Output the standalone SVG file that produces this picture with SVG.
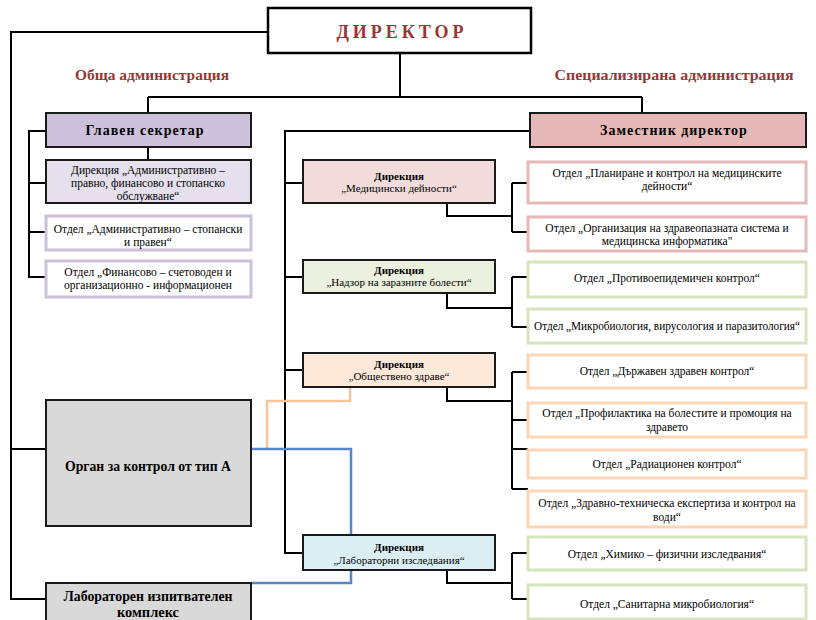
<svg xmlns="http://www.w3.org/2000/svg" width="816" height="620" viewBox="0 0 816 620">
<style>
.ln{fill:none;stroke:#000;stroke-width:2}
.node{stroke:#1a1a1a;stroke-width:2}
.sub{fill:#fff;stroke-width:3}
.lav{stroke:#ccc0da}
.pink{stroke:#e6b8b7}
.green{stroke:#d7e4bd}
.orange{stroke:#fbd5b5}
text{font-family:'Liberation Serif','Times New Roman',serif;fill:#000;text-anchor:middle}
.t{font-size:11.5px}
.d{font-size:11px}
.b{font-weight:bold}
.hdr{font-size:15px;font-weight:bold;fill:#953735}
.big{font-size:14px;font-weight:bold;letter-spacing:1px}
.gray{font-size:15px;font-weight:bold}
</style>
<rect width="816" height="620" fill="#fff"/>
<g id="connectors">
<path class="ln" d="M268,32H11V599H46M11,449H46"/>
<path class="ln" d="M400,53V97M148,97H642M148,97V113M642,97V113"/>
<path class="ln" d="M46,131H29V277H46M29,183H46M29,232H46M148,147V160"/>
<path class="ln" d="M530,131H285V553H303M285,183H303M285,277H303M285,370H303"/>
<path class="ln" d="M447,203V216H512M512,183V232M512,183H528M512,232H528"/>
<path class="ln" d="M447,293V308H512M512,277V327M512,277H528M512,327H528"/>
<path class="ln" d="M447,387V401H512M512,372V489M512,372H528M512,420H528M512,449H528M512,489H528"/>
<path class="ln" d="M447,570V583H512M512,553V599M512,553H528M512,599H528"/>
<path d="M267,449V401H350V387" fill="none" stroke="#f8c49a" stroke-width="2.5"/>
<path d="M251,449H351V535M351,570V583H251" fill="none" stroke="#5586c8" stroke-width="2.5"/>
</g>
<g id="director">
<rect x="268" y="8" width="263" height="45" fill="#fff" stroke="#000" stroke-width="2.5"/>
<text x="400" y="38" font-size="18" font-weight="bold" textLength="127" lengthAdjust="spacing" style="fill:#953735">ДИРЕКТОР</text>
</g>
<g id="labels">
<text class="hdr" x="152" y="80" textLength="154" lengthAdjust="spacingAndGlyphs">Обща администрация</text>
<text class="hdr" x="674" y="80" textLength="239" lengthAdjust="spacingAndGlyphs">Специализирана администрация</text>
</g>
<g id="glaven">
<rect class="node" x="46" y="113" width="205" height="34" fill="#ccc0da"/>
<text class="big" x="145" y="135">Главен секретар</text>
</g>
<g id="zamestnik">
<rect class="node" x="530" y="113" width="276" height="34" fill="#e6b8b7"/>
<text class="big" x="674" y="135">Заместник директор</text>
</g>
<g id="dir-admin">
<rect class="node" x="46" y="160" width="205" height="43" fill="#e5e0ec"/>
<text class="t" x="148" y="174">Дирекция „Административно –</text>
<text class="t" x="148" y="187">правно, финансово и стопанско</text>
<text class="t" x="148" y="200">обслужване“</text>
</g>
<g id="otdel-adm">
<rect class="sub lav" x="46" y="216" width="205" height="34"/>
<text class="t" x="148" y="233">Отдел „Административно – стопански</text>
<text class="t" x="148" y="246">и правен“</text>
</g>
<g id="otdel-fin">
<rect class="sub lav" x="46" y="261" width="205" height="36"/>
<text class="t" x="148" y="276">Отдел „Финансово – счетоводен и</text>
<text class="t" x="148" y="289">организационно - информационен</text>
</g>
<g id="organ">
<rect class="node" x="46" y="400" width="205" height="126" fill="#d9d9d9"/>
<text class="gray" x="148" y="471" textLength="166" lengthAdjust="spacingAndGlyphs">Орган за контрол от тип А</text>
</g>
<g id="lab-complex">
<rect class="node" x="46" y="583" width="205" height="40" fill="#d9d9d9"/>
<text class="gray" x="148" y="601" textLength="169" lengthAdjust="spacingAndGlyphs">Лабораторен изпитвателен</text>
<text class="gray" x="148" y="617" textLength="62" lengthAdjust="spacingAndGlyphs">комплекс</text>
</g>
<g id="dir-med">
<rect class="node" x="303" y="160" width="192" height="43" fill="#f2dcdb"/>
<text class="d b" x="399" y="180">Дирекция</text>
<text class="d" x="399" y="192">„Медицински дейности“</text>
</g>
<g id="dir-nadzor">
<rect class="node" x="303" y="260" width="192" height="33" fill="#ebf1de"/>
<text class="d b" x="399" y="274">Дирекция</text>
<text class="d" x="399" y="286">„Надзор на заразните болести“</text>
</g>
<g id="dir-obshtestveno">
<rect class="node" x="303" y="353" width="192" height="34" fill="#fde9d9"/>
<text class="d b" x="399" y="368">Дирекция</text>
<text class="d" x="399" y="380">„Обществено здраве“</text>
</g>
<g id="dir-lab">
<rect class="node" x="303" y="535" width="192" height="35" fill="#dbeef3"/>
<text class="d b" x="399" y="551">Дирекция</text>
<text class="d" x="399" y="564">„Лабораторни изследвания“</text>
</g>
<g id="otdel-planirane">
<rect class="sub pink" x="528" y="162" width="278" height="41"/>
<text class="t" x="667" y="177">Отдел „Планиране и контрол на медицинските</text>
<text class="t" x="667" y="190">дейности“</text>
</g>
<g id="otdel-organizacia">
<rect class="sub pink" x="528" y="217" width="278" height="34"/>
<text class="t" x="667" y="232">Отдел „Организация на здравеопазната система и</text>
<text class="t" x="667" y="245">медицинска информатика"</text>
</g>
<g id="otdel-protivoepid">
<rect class="sub green" x="528" y="262" width="278" height="35"/>
<text class="t" x="667" y="282">Отдел „Противоепидемичен контрол“</text>
</g>
<g id="otdel-mikro">
<rect class="sub green" x="528" y="309" width="278" height="34"/>
<text class="t" x="667" y="330" textLength="266" lengthAdjust="spacingAndGlyphs">Отдел „Микробиология, вирусология и паразитология“</text>
</g>
<g id="otdel-darzhaven">
<rect class="sub orange" x="528" y="355" width="278" height="33"/>
<text class="t" x="667" y="375">Отдел „Държавен здравен контрол“</text>
</g>
<g id="otdel-profilaktika">
<rect class="sub orange" x="528" y="403" width="278" height="34"/>
<text class="t" x="667" y="417">Отдел „Профилактика на болестите и промоция на</text>
<text class="t" x="667" y="431">здравето</text>
</g>
<g id="otdel-radiacionen">
<rect class="sub orange" x="528" y="450" width="278" height="28"/>
<text class="t" x="667" y="468">Отдел  „Радиационен контрол“</text>
</g>
<g id="otdel-zdravno">
<rect class="sub orange" x="528" y="491" width="278" height="36"/>
<text class="t" x="667" y="507">Отдел „Здравно-техническа експертиза и контрол на</text>
<text class="t" x="667" y="521">води“</text>
</g>
<g id="otdel-himiko">
<rect class="sub green" x="528" y="537" width="278" height="33"/>
<text class="t" x="667" y="558">Отдел  „Химико – физични изследвания“</text>
</g>
<g id="otdel-sanitarna">
<rect class="sub green" x="528" y="585" width="278" height="34"/>
<text class="t" x="667" y="608">Отдел „Санитарна микробиология“</text>
</g>
</svg>
